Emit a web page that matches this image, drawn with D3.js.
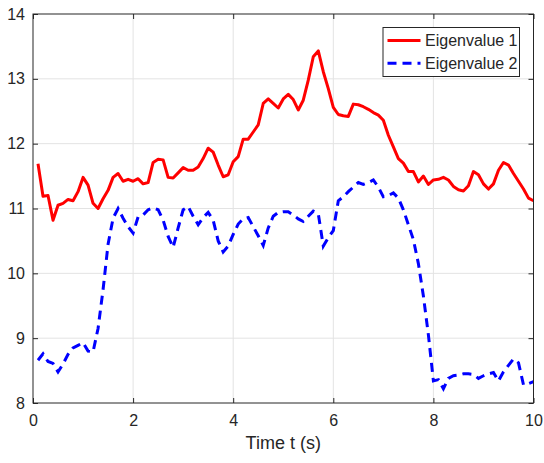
<!DOCTYPE html>
<html>
<head>
<meta charset="utf-8">
<script src="https://cdn.jsdelivr.net/npm/d3@7"></script>
<style>
  body { margin: 0; background: #fff; }
  .chart text { font-family: 'Liberation Sans', Arial, sans-serif; fill: #262626; }
</style>
</head>
<body>
<div class="chart"></div>
<script>
// samples every 0.1 s
const time = d3.range(1, 101).map(i => i / 10);

const eigen1 = [
  11.69, 11.19, 11.20, 10.82, 11.05, 11.08, 11.14, 11.12, 11.26, 11.48,
  11.36, 11.08, 11.00, 11.15, 11.28, 11.48, 11.54, 11.42, 11.45, 11.42,
  11.46, 11.38, 11.40, 11.71, 11.76, 11.75, 11.48, 11.47, 11.55, 11.63,
  11.59, 11.59, 11.64, 11.77, 11.93, 11.87, 11.67, 11.49, 11.52, 11.72,
  11.80, 12.07, 12.07, 12.18, 12.29, 12.62, 12.69, 12.62, 12.55, 12.69,
  12.76, 12.68, 12.52, 12.67, 12.98, 13.34, 13.43, 13.11, 12.85, 12.56,
  12.45, 12.43, 12.42, 12.61, 12.60, 12.57, 12.53, 12.48, 12.44, 12.36,
  12.13, 11.95, 11.77, 11.70, 11.57, 11.57, 11.41, 11.50, 11.37, 11.44,
  11.45, 11.48, 11.44, 11.34, 11.29, 11.27, 11.35, 11.57, 11.52, 11.38,
  11.30, 11.38, 11.59, 11.71, 11.67, 11.54, 11.42, 11.30, 11.16, 11.12
];

const eigen2 = [
  8.66, 8.76, 8.64, 8.61, 8.48, 8.60, 8.75, 8.85, 8.89, 8.93,
  8.80, 8.79, 9.15, 9.75, 10.45, 10.85, 11.00, 10.85, 10.72, 10.62,
  10.87, 10.90, 10.98, 11.01, 10.98, 10.82, 10.57, 10.40, 10.70, 10.98,
  11.03, 10.88, 10.75, 10.86, 10.94, 10.82, 10.50, 10.33, 10.42, 10.60,
  10.76, 10.84, 10.86, 10.72, 10.58, 10.43, 10.70, 10.88, 10.94, 10.95,
  10.95, 10.90, 10.84, 10.80, 10.88, 10.96, 10.92, 10.42, 10.55, 10.66,
  11.12, 11.18, 11.26, 11.33, 11.40, 11.37, 11.40, 11.44, 11.33, 11.18,
  11.20, 11.24, 11.16, 10.98, 10.75, 10.52, 10.15, 9.65, 9.05, 8.34,
  8.36, 8.22, 8.38, 8.42, 8.43, 8.45, 8.45, 8.44, 8.38, 8.42,
  8.45, 8.47, 8.34, 8.48, 8.58, 8.68, 8.62, 8.28, 8.30, 8.33
];

const seriesNames = ['Eigenvalue 1', 'Eigenvalue 2'];
const seriesColors = ['#ff0000', '#0000ff'];
const xTicks = [0, 2, 4, 6, 8, 10];
const yTicks = [8, 9, 10, 11, 12, 13, 14];

const margin = { top: 14, right: 10.5, bottom: 60, left: 33 },
  width = 544,
  height = 463,
  innerWidth = width - margin.left - margin.right,
  innerHeight = height - margin.top - margin.bottom,
  svg = d3.select('.chart')
    .append('svg')
    .attr('width', width)
    .attr('height', height),
  g = svg.append('g')
    .attr('transform', `translate(${margin.left}, ${margin.top})`);

const x = d3.scaleLinear().domain([0, 10]).range([0, innerWidth]);
const y = d3.scaleLinear().domain([8, 14]).range([innerHeight, 0]);

// grid
g.append('g')
  .selectAll('line')
  .data(xTicks.slice(1, -1))
  .enter()
  .append('line')
  .attr('x1', d => x(d)).attr('x2', d => x(d))
  .attr('y1', 0).attr('y2', innerHeight)
  .attr('stroke', '#e3e3e3');

g.append('g')
  .selectAll('line')
  .data(yTicks.slice(1, -1))
  .enter()
  .append('line')
  .attr('y1', d => y(d)).attr('y2', d => y(d))
  .attr('x1', 0).attr('x2', innerWidth)
  .attr('stroke', '#e3e3e3');

// lines
const line = d3.line()
  .x((d, i) => x(time[i]))
  .y(d => y(d));

g.append('path')
  .datum(eigen1)
  .attr('fill', 'none')
  .attr('stroke', seriesColors[0])
  .attr('stroke-width', 3)
  .attr('stroke-linejoin', 'round')
  .attr('d', line);

g.append('path')
  .datum(eigen2)
  .attr('fill', 'none')
  .attr('stroke', seriesColors[1])
  .attr('stroke-width', 3)
  .attr('stroke-dasharray', '9,6')
  .attr('d', line);

// axes (ticks inward, box on)
const styleAxis = sel => {
  sel.selectAll('.domain').remove();
  sel.selectAll('.tick line').attr('stroke', '#262626');
  sel.selectAll('text').attr('font-size', 16).attr('fill', '#262626');
};

g.append('g')
  .attr('transform', `translate(0, ${innerHeight})`)
  .call(d3.axisBottom(x).tickValues(xTicks).tickFormat(d3.format('d')).tickSize(-5).tickPadding(12))
  .call(styleAxis);

g.append('g')
  .call(d3.axisTop(x).tickValues(xTicks).tickSize(-5).tickFormat(''))
  .call(styleAxis);

g.append('g')
  .call(d3.axisLeft(y).tickValues(yTicks).tickFormat(d3.format('d')).tickSize(-5).tickPadding(8))
  .call(styleAxis);

g.append('g')
  .attr('transform', `translate(${innerWidth}, 0)`)
  .call(d3.axisRight(y).tickValues(yTicks).tickSize(-5).tickFormat(''))
  .call(styleAxis);

g.append('rect')
  .attr('width', innerWidth)
  .attr('height', innerHeight)
  .attr('fill', 'none')
  .attr('stroke', '#262626')
  .attr('stroke-width', 1);

g.append('text')
  .attr('x', innerWidth / 2)
  .attr('y', innerHeight + 46)
  .attr('text-anchor', 'middle')
  .attr('font-size', 18)
  .text('Time t (s)');

// legend
const legend = g.append('g')
  .attr('transform', `translate(${innerWidth - 150.5}, 13.5)`);

legend.append('rect')
  .attr('width', 136.5)
  .attr('height', 49)
  .attr('fill', '#fff')
  .attr('stroke', '#262626')
  .attr('stroke-width', 1);

const items = legend.selectAll('g')
  .data(seriesNames)
  .enter()
  .append('g')
  .attr('transform', (d, i) => `translate(0, ${13 + i * 22.7})`);

items.append('line')
  .attr('x1', 4.5).attr('x2', 37.5)
  .attr('stroke', (d, i) => seriesColors[i])
  .attr('stroke-width', 3)
  .attr('stroke-dasharray', (d, i) => i ? '9,6' : null);

items.append('text')
  .attr('x', 42)
  .attr('dy', '0.35em')
  .attr('font-size', 16)
  .text(d => d);
</script>
</body>
</html>
